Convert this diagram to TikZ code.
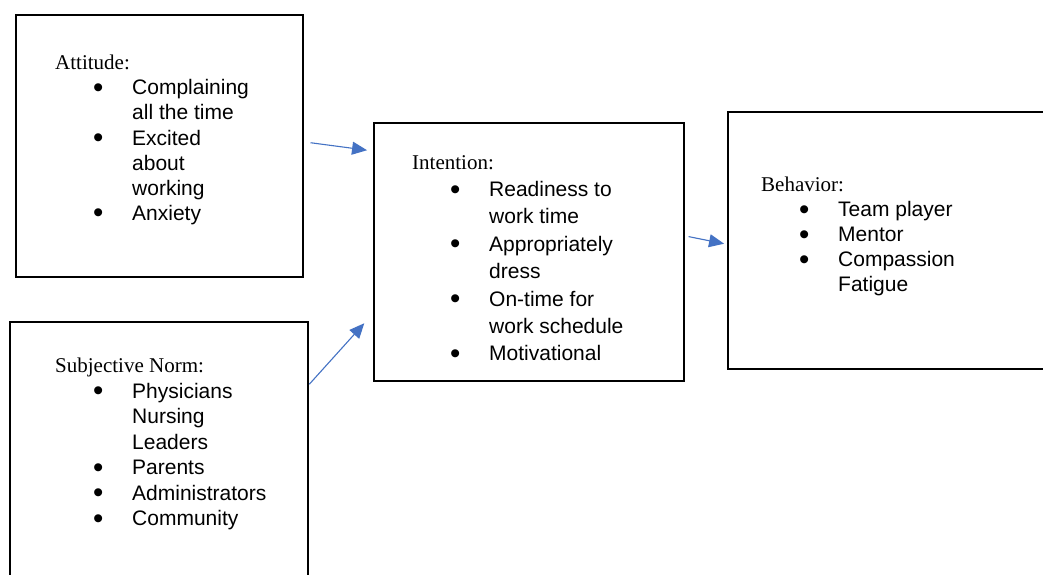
\documentclass[tikz,border=0pt]{standalone}
\usepackage{fontspec}
\usepackage{graphicx}
\setmainfont{Liberation Serif}
\setsansfont{Liberation Sans}
\usetikzlibrary{arrows.meta}

\definecolor{arrowblue}{HTML}{4472C4}

% bullet item and continuation line
\newcommand\itm{\hspace*{38pt}\makebox[39pt][l]{\smash{\raisebox{-2.6pt}{\scalebox{1.4}{\textbullet}}}}}
\newcommand\cnt{\hspace*{77pt}}

\tikzset{
  box/.style={draw, line width=1.6pt, anchor=north west, inner sep=0pt},
  txt/.style={anchor=north west, inner sep=0pt, align=left,
    font=\sffamily\fontsize{21}{#1}\selectfont},
  txt/.default=25.3,
  arr/.style={arrowblue, line width=1.1pt, -{Triangle[length=15pt,width=13pt]}}
}

\begin{document}
\begin{tikzpicture}[x=1pt, y=-1pt]

\useasboundingbox (0,0) rectangle (1043,574);
\fill[white] (0,0) rectangle (1043,574);
\clip (0,0) rectangle (1043,574);

% boxes
\node[box, minimum width=287pt, minimum height=262pt] (att) at (15,14) {};
\node[box, minimum width=298pt, minimum height=290pt] (sub) at (9,321) {};
\node[box, minimum width=310pt, minimum height=258pt] (int) at (373,122) {};
\node[box, minimum width=340pt, minimum height=257pt] (beh) at (727,111) {};

% box contents
\node[txt=25.1] (attList) at (55,55) {{\rmfamily Attitude:}\\
  \itm Complaining\\ \cnt all the time\\
  \itm Excited\\ \cnt about\\ \cnt working\\
  \itm Anxiety};

\node[txt=25.5] (subList) at (55,358) {{\rmfamily Subjective Norm:}\\
  \itm Physicians\\ \cnt Nursing\\ \cnt Leaders\\
  \itm Parents\\
  \itm Administrators\\
  \itm Community};

\node[txt=27.4] (intList) at (412,155) {{\rmfamily Intention:}\\
  \itm Readiness to\\ \cnt work time\\
  \itm Appropriately\\ \cnt dress\\
  \itm On-time for\\ \cnt work schedule\\
  \itm Motivational};

\node[txt=25] (behList) at (761,177) {{\rmfamily Behavior:}\\
  \itm Team player\\
  \itm Mentor\\
  \itm Compassion\\ \cnt Fatigue};

% arrows
\draw[arr, shorten <=7pt, shorten >=6pt] ([yshift=4pt]att.east) -- ([yshift=-29pt]int.north west);
\draw[arr, shorten <=1pt, shorten >=13pt] ([yshift=-64pt]sub.north east) -- ([yshift=68pt]int.south west);
\draw[arr, shorten <=4pt, shorten >=3pt] ([yshift=16pt]int.east) -- ([yshift=-4pt]beh.west);

\end{tikzpicture}
\end{document}
